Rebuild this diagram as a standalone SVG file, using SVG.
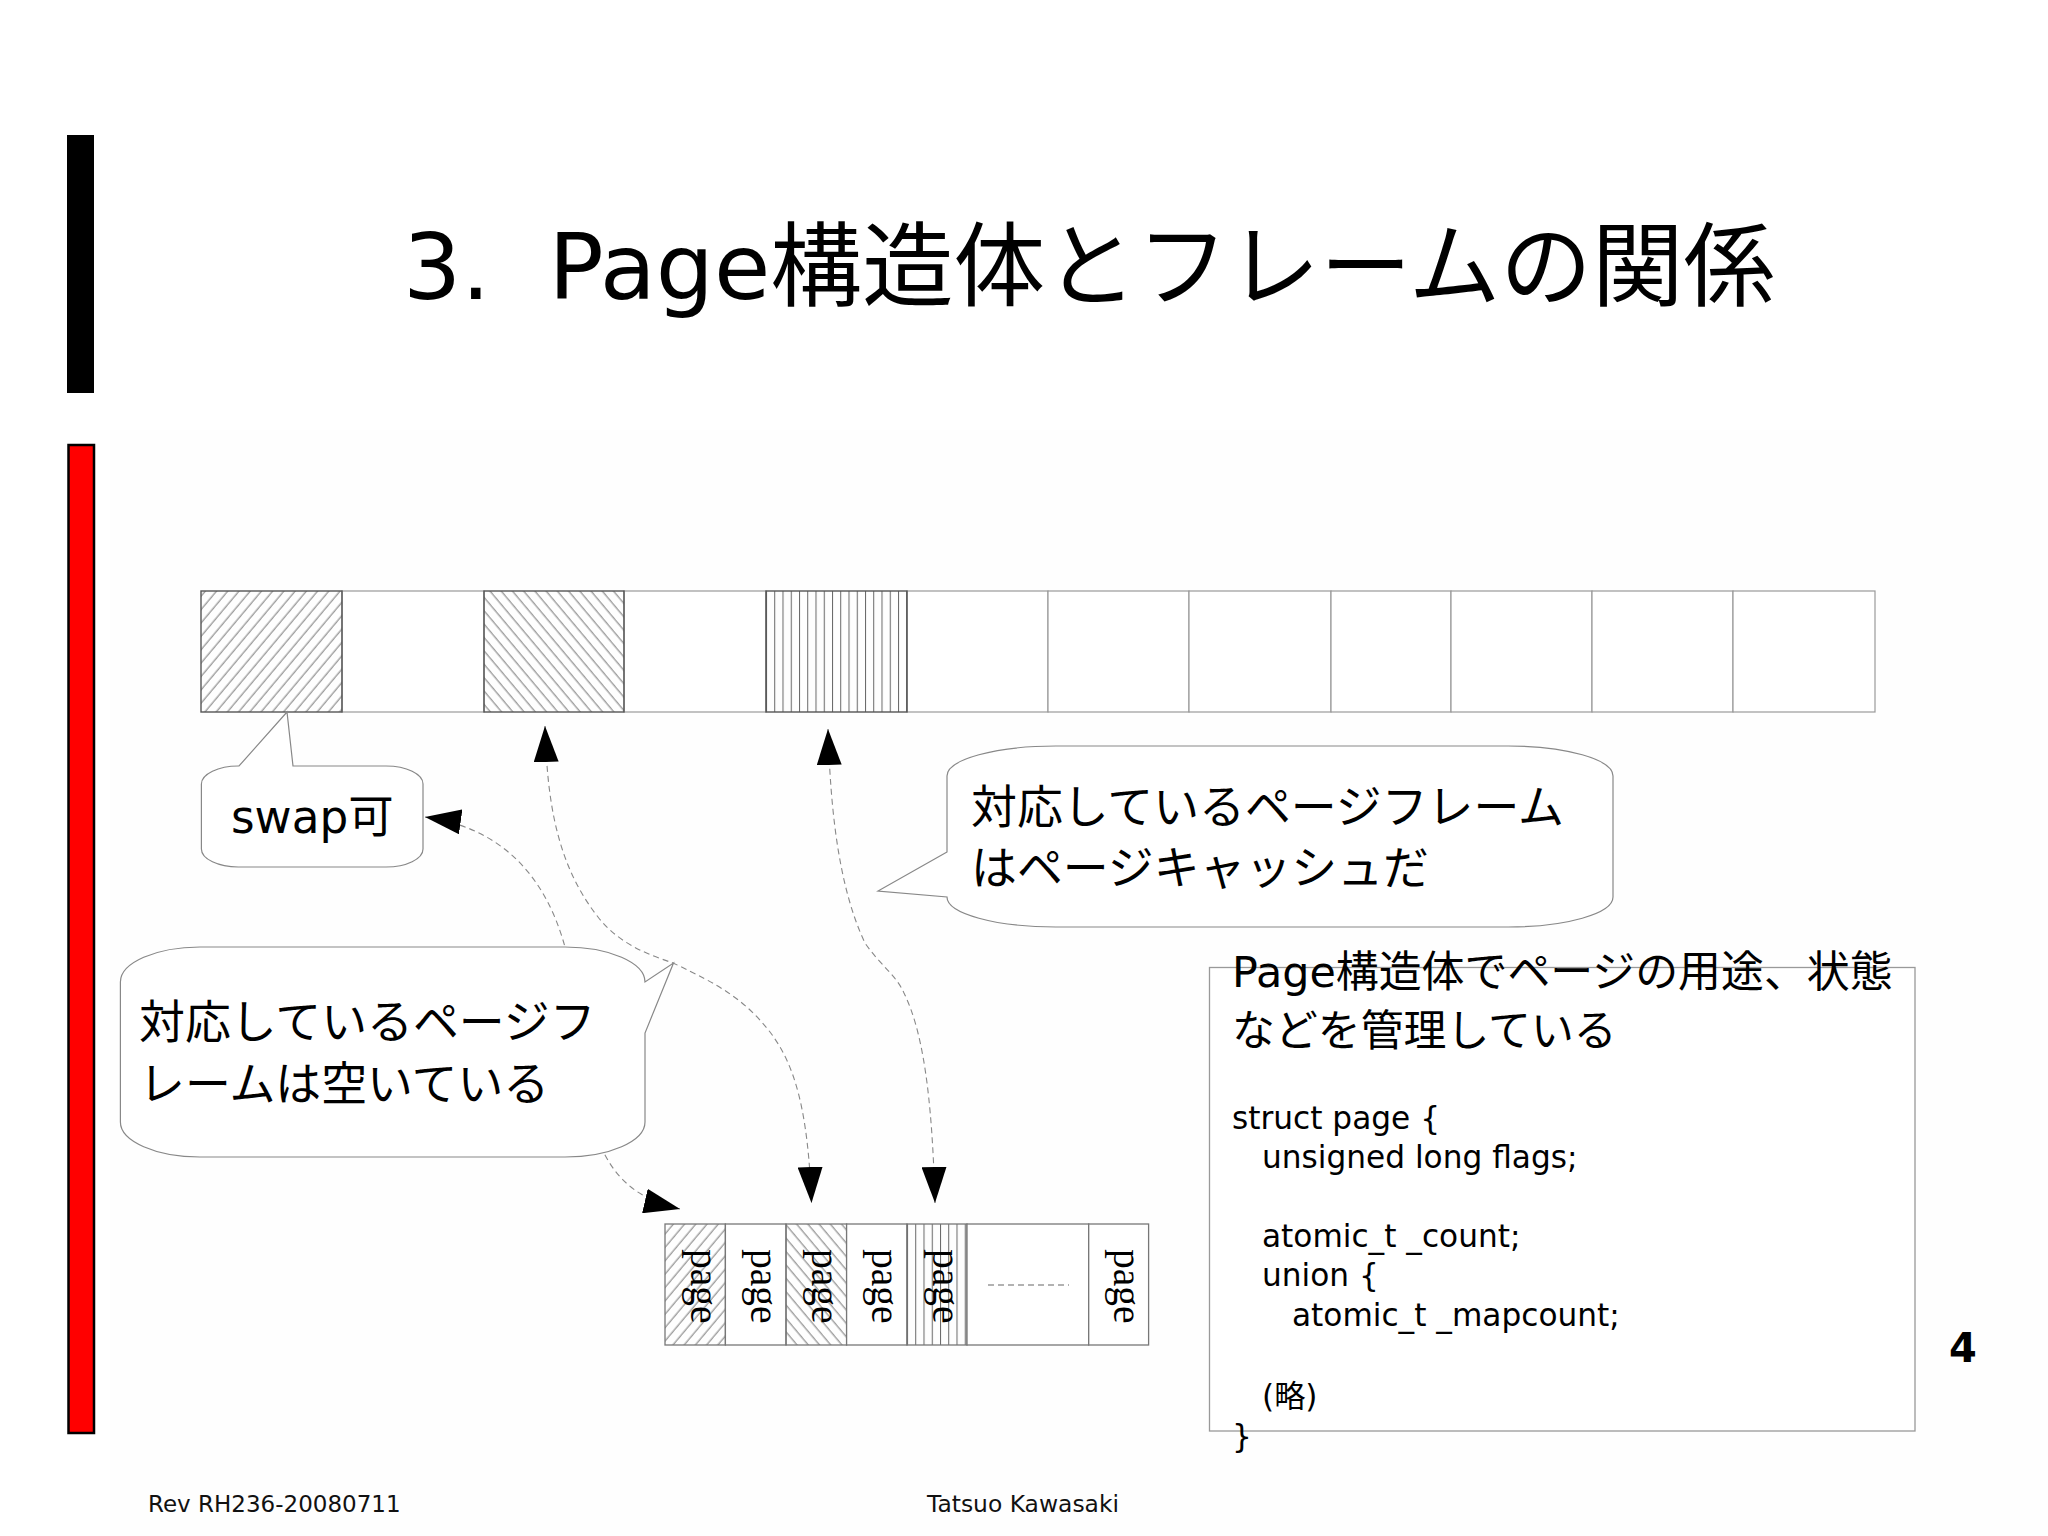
<svg xmlns="http://www.w3.org/2000/svg" width="2048" height="1536" viewBox="0 0 2048 1536">
<style>
text{font-family:"DejaVu Sans","Noto Sans CJK JP",sans-serif;fill:#000}
.cell{fill:#fff;stroke:#999;stroke-width:1.2}
.hcell{stroke:#555;stroke-width:1.4}
.pcell{fill:#fff;stroke:#777;stroke-width:1.3}
.bub{fill:#fff;stroke:#888;stroke-width:1.2}
.link{fill:none;stroke:#888;stroke-width:1.1;stroke-dasharray:6 4}
.pg{font-family:"Liberation Serif",serif;font-size:39.5px}
.b{font-size:45.9px}
.s{font-size:45.33px}
.j{font-size:42.9px}
.c{font-size:31.2px}
.f{font-size:23.2px;fill:#111}
.h{stroke:#555;stroke-width:.8}
</style>
<defs>
<pattern id="fw" width="8.6" height="8.6" patternUnits="userSpaceOnUse" patternTransform="rotate(40)"><line class="h" x1="4" y1="0" x2="4" y2="8.6"/></pattern>
<pattern id="bw" width="8.6" height="8.6" patternUnits="userSpaceOnUse" patternTransform="rotate(-40)"><line class="h" x1="4" y1="0" x2="4" y2="8.6"/></pattern>
<pattern id="vt" x="766" width="8.25" height="8" patternUnits="userSpaceOnUse"><line x1="0.5" y1="0" x2="0.5" y2="8" stroke="#666" stroke-width="1"/></pattern>
<pattern id="vp" x="907" width="8.25" height="8" patternUnits="userSpaceOnUse"><line x1="0.5" y1="0" x2="0.5" y2="8" stroke="#666" stroke-width="1"/></pattern>
<marker id="head" markerUnits="userSpaceOnUse" markerWidth="36" markerHeight="25" refX="36" refY="12.5" orient="auto-start-reverse" viewBox="0 0 36 25"><path d="M0,0L36,12.5L0,25Z" fill="#000"/></marker>
</defs>
<rect width="2048" height="1536" fill="#fff"/>
<rect x="110" y="430" width="1938" height="1106" fill="#fefefe"/>
<g id="bar-black"><rect x="67" y="135" width="27" height="258" fill="#000"/></g>
<g id="bar-red"><rect x="68.5" y="445" width="25.5" height="988" fill="#f00" stroke="#000" stroke-width="2.5"/></g>
<g id="title"><text x="403" y="299" font-size="91.6" xml:space="preserve">3.  Page構造体とフレームの関係</text></g>
<g id="frames">
<rect class="cell" x="342" y="591" width="142" height="121"/>
<rect class="cell" x="624" y="591" width="142" height="121"/>
<rect class="cell" x="907" y="591" width="141" height="121"/>
<rect class="cell" x="1048" y="591" width="141" height="121"/>
<rect class="cell" x="1189" y="591" width="142" height="121"/>
<rect class="cell" x="1331" y="591" width="120" height="121"/>
<rect class="cell" x="1451" y="591" width="141" height="121"/>
<rect class="cell" x="1592" y="591" width="141" height="121"/>
<rect class="cell" x="1733" y="591" width="142" height="121"/>
<rect class="cell hcell" x="201" y="591" width="141" height="121" style="fill:url(#fw)"/>
<rect class="cell hcell" x="484" y="591" width="140" height="121" style="fill:url(#bw)"/>
<rect class="cell hcell" x="766" y="591" width="141" height="121" style="fill:url(#vt)"/>
</g>
<g id="pages">
<rect class="pcell" x="665" y="1224" width="60.4" height="121" style="fill:url(#fw)"/>
<rect class="pcell" x="725.4" y="1224" width="60.6" height="121"/>
<rect class="pcell" x="786" y="1224" width="60.6" height="121" style="fill:url(#bw)"/>
<rect class="pcell" x="846.6" y="1224" width="60.4" height="121"/>
<rect class="pcell" x="907" y="1224" width="60" height="121" style="fill:url(#vp)"/>
<rect class="pcell" x="967" y="1224" width="121.7" height="121"/>
<rect class="pcell" x="1088.7" y="1224" width="59.9" height="121"/>
<text class="pg" transform="translate(691,1249) rotate(90)">page</text>
<text class="pg" transform="translate(751,1249) rotate(90)">page</text>
<text class="pg" transform="translate(812,1249) rotate(90)">page</text>
<text class="pg" transform="translate(872,1249) rotate(90)">page</text>
<text class="pg" transform="translate(933,1249) rotate(90)">page</text>
<text class="pg" transform="translate(1114,1249) rotate(90)">page</text>
<line x1="988" y1="1285" x2="1069" y2="1285" stroke="#999" stroke-width="1.3" stroke-dasharray="6 4"/>
</g>
<g id="connectors">
<path class="link" marker-start="url(#head)" marker-end="url(#head)" d="M680,1209C645,1201 620,1185 604,1153C585,1110 580,1000 565,947C552,900 520,830 425,817"/>
<path class="link" marker-start="url(#head)" marker-end="url(#head)" d="M545,726C547,790 553,860 598,917C620,945 650,955 673,963C720,985 745,1000 770,1032C795,1065 808,1110 811.5,1203"/>
<path class="link" marker-start="url(#head)" marker-end="url(#head)" d="M828,729C830,790 835,880 865,943C880,965 896,975 904,993C922,1030 932,1090 935,1203"/>
</g>
<g id="bubble-swap">
<path class="bub" d="M239,766A37,18 0 0 0 201.4,784V849A37,18 0 0 0 239,867H386A37,18 0 0 0 423,849V784A37,18 0 0 0 386,766H293L287,712Z"/>
<text class="s" x="231" y="833">swap可</text>
</g>
<g id="bubble-free">
<path class="bub" d="M645,982A80,35 0 0 0 565,947H200A80,35 0 0 0 120.4,982V1122A80,35 0 0 0 200,1157H565A80,35 0 0 0 645,1122V1033L673.5,963Z"/>
<text class="b" x="139" y="1038">対応しているページフ</text>
<text class="b" x="139" y="1100">レームは空いている</text>
</g>
<g id="bubble-cache">
<path class="bub" d="M947,852L878,891L947,897A109,30 0 0 0 1056,927H1508A105,30 0 0 0 1613,897V776A105,30 0 0 0 1508,746H1056A109,30 0 0 0 947,776Z"/>
<text class="b" x="971" y="823">対応しているページフレーム</text>
<text class="b" x="971" y="884">はページキャッシュだ</text>
</g>
<g id="struct-box">
<rect x="1209.5" y="967.5" width="705.5" height="463.5" fill="#fff" stroke="#999" stroke-width="1.3"/>
<text class="j" x="1232" y="987">Page構造体でページの用途、状態</text>
<text class="j" x="1232" y="1046">などを管理している</text>
<text class="c" x="1232" y="1129">struct page {</text>
<text class="c" x="1262" y="1168">unsigned long flags;</text>
<text class="c" x="1262" y="1247">atomic_t _count;</text>
<text class="c" x="1262" y="1286">union {</text>
<text class="c" x="1292" y="1325.5">atomic_t _mapcount;</text>
<text class="c" x="1262" y="1407">(略)</text>
<text class="c" x="1232" y="1447">}</text>
</g>
<g id="footer">
<text class="f" x="148" y="1512" style="font-size:23px">Rev RH236-20080711</text>
<text class="f" x="927" y="1512" style="font-size:23.4px">Tatsuo Kawasaki</text>
<text x="1949" y="1362" font-size="40" font-weight="700">4</text>
</g>
</svg>
